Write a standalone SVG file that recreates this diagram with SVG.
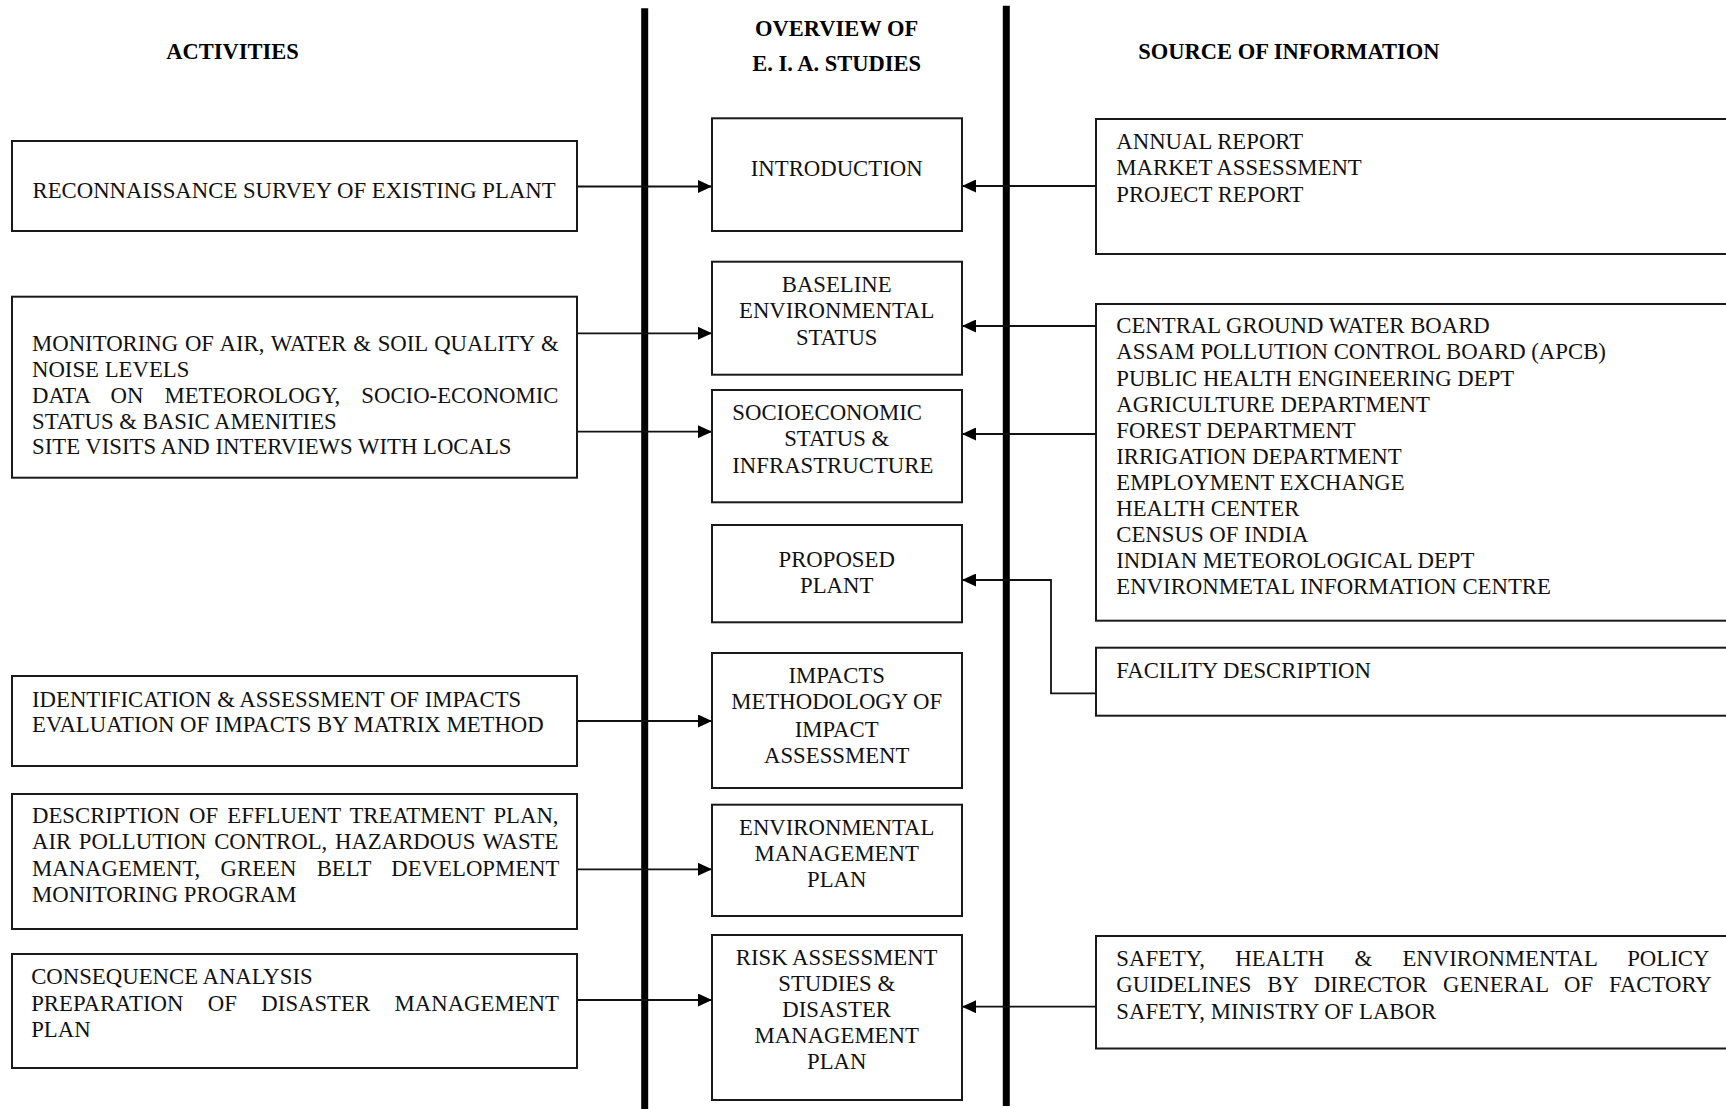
<svg xmlns="http://www.w3.org/2000/svg" width="1726" height="1109" viewBox="0 0 1726 1109">
<style>
.box{fill:#fff;stroke:#1a1a1a;stroke-width:2}
.t{font-family:"Liberation Serif","Times New Roman",serif;font-size:22.75px;fill:#111}
.h{font-family:"Liberation Serif","Times New Roman",serif;font-size:22.5px;font-weight:bold;fill:#000}
.c{text-anchor:middle}
.con{fill:none;stroke:#111;stroke-width:1.8}
.bar{stroke:#000;stroke-width:7}
</style>
<defs>
<marker id="arr" markerWidth="14" markerHeight="13" refX="14" refY="6.5" orient="auto" markerUnits="userSpaceOnUse">
<path d="M0,0 L14,6.5 L0,13 z" fill="#000"/>
</marker>
</defs>
<rect width="1726" height="1109" fill="#fff"/>

<g id="headers">
<text class="h c" x="232.5" y="59.3">ACTIVITIES</text>
<text class="h c" x="836.7" y="35.7">OVERVIEW OF</text>
<text class="h c" x="836.7" y="70.7">E. I. A. STUDIES</text>
<text class="h c" x="1289" y="59.3">SOURCE OF INFORMATION</text>
</g>

<g id="dividers">
<line class="bar" x1="644.7" y1="8.3" x2="644.7" y2="1109"/>
<line class="bar" x1="1006.3" y1="5.7" x2="1006.3" y2="1106"/>
</g>

<g id="connectors">
<line class="con" x1="577" y1="186.5" x2="712" y2="186.5" marker-end="url(#arr)"/>
<line class="con" x1="1096" y1="186" x2="962" y2="186" marker-end="url(#arr)"/>
<line class="con" x1="577" y1="333.3" x2="712" y2="333.3" marker-end="url(#arr)"/>
<line class="con" x1="577" y1="431.7" x2="712" y2="431.7" marker-end="url(#arr)"/>
<line class="con" x1="1096" y1="326" x2="962" y2="326" marker-end="url(#arr)"/>
<line class="con" x1="1096" y1="434" x2="962" y2="434" marker-end="url(#arr)"/>
<polyline class="con" points="1096,693.3 1051,693.3 1051,580 962,580" marker-end="url(#arr)"/>
<line class="con" x1="577" y1="721" x2="712" y2="721" marker-end="url(#arr)"/>
<line class="con" x1="577" y1="869.3" x2="712" y2="869.3" marker-end="url(#arr)"/>
<line class="con" x1="577" y1="1000" x2="712" y2="1000" marker-end="url(#arr)"/>
<line class="con" x1="1096" y1="1006.7" x2="962" y2="1006.7" marker-end="url(#arr)"/>
</g>

<g id="act-reconnaissance">
<rect class="box" x="12" y="141" width="565" height="90"/>
<text class="t" x="32.5" y="198.3">RECONNAISSANCE SURVEY OF EXISTING PLANT</text>
</g>
<g id="act-monitoring">
<rect class="box" x="12" y="296.7" width="565" height="181"/>
<text class="t" x="32" y="350.7" word-spacing="1.05">MONITORING OF AIR, WATER &amp; SOIL QUALITY &amp;</text>
<text class="t" x="32" y="376.7">NOISE LEVELS</text>
<text class="t" x="32" y="402.7" word-spacing="15.3">DATA ON METEOROLOGY, SOCIO-ECONOMIC</text>
<text class="t" x="32" y="428.7">STATUS &amp; BASIC AMENITIES</text>
<text class="t" x="32" y="454">SITE VISITS AND INTERVIEWS WITH LOCALS</text>
</g>
<g id="act-impacts">
<rect class="box" x="12" y="676" width="565" height="90"/>
<text class="t" x="32" y="706.7">IDENTIFICATION &amp; ASSESSMENT OF IMPACTS</text>
<text class="t" x="32" y="732.3">EVALUATION OF IMPACTS BY MATRIX METHOD</text>
</g>
<g id="act-description">
<rect class="box" x="12" y="794" width="565" height="135"/>
<text class="t" x="32" y="823.3" word-spacing="3.5">DESCRIPTION OF EFFLUENT TREATMENT PLAN,</text>
<text class="t" x="32" y="849.3" word-spacing="2">AIR POLLUTION CONTROL, HAZARDOUS WASTE</text>
<text class="t" x="32" y="876" word-spacing="14.6">MANAGEMENT, GREEN BELT DEVELOPMENT</text>
<text class="t" x="32" y="902.3">MONITORING PROGRAM</text>
</g>
<g id="act-consequence">
<rect class="box" x="12" y="954" width="565" height="114"/>
<text class="t" x="31.2" y="984.3">CONSEQUENCE ANALYSIS</text>
<text class="t" x="31.2" y="1011" word-spacing="18.8">PREPARATION OF DISASTER MANAGEMENT</text>
<text class="t" x="31.2" y="1036.7">PLAN</text>
</g>

<g id="eia-introduction">
<rect class="box" x="712" y="118.3" width="250" height="112.7"/>
<text class="t c" x="836.7" y="176">INTRODUCTION</text>
</g>
<g id="eia-baseline">
<rect class="box" x="712" y="261.7" width="250" height="113"/>
<text class="t c" x="836.7" y="292.3">BASELINE</text>
<text class="t c" x="836.7" y="318.3">ENVIRONMENTAL</text>
<text class="t c" x="836.7" y="345">STATUS</text>
</g>
<g id="eia-socioeconomic">
<rect class="box" x="712" y="390" width="250" height="112.3"/>
<text class="t" x="732.3" y="420">SOCIOECONOMIC</text>
<text class="t c" x="836.7" y="446">STATUS &amp;</text>
<text class="t" x="732.3" y="472.7">INFRASTRUCTURE</text>
</g>
<g id="eia-proposed">
<rect class="box" x="712" y="525" width="250" height="97.3"/>
<text class="t c" x="836.7" y="566.7">PROPOSED</text>
<text class="t c" x="836.7" y="593.3">PLANT</text>
</g>
<g id="eia-impacts">
<rect class="box" x="712" y="653" width="250" height="135"/>
<text class="t c" x="836.7" y="683.3">IMPACTS</text>
<text class="t c" x="836.7" y="709.3">METHODOLOGY OF</text>
<text class="t c" x="836.7" y="736.7">IMPACT</text>
<text class="t c" x="836.7" y="763.3">ASSESSMENT</text>
</g>
<g id="eia-emp">
<rect class="box" x="712" y="804.7" width="250" height="111.3"/>
<text class="t c" x="836.7" y="835">ENVIRONMENTAL</text>
<text class="t c" x="836.7" y="861">MANAGEMENT</text>
<text class="t c" x="836.7" y="887.3">PLAN</text>
</g>
<g id="eia-risk">
<rect class="box" x="712" y="935" width="250" height="165"/>
<text class="t c" x="836.7" y="965">RISK ASSESSMENT</text>
<text class="t c" x="836.7" y="990.7">STUDIES &amp;</text>
<text class="t c" x="836.7" y="1016.7">DISASTER</text>
<text class="t c" x="836.7" y="1043.3">MANAGEMENT</text>
<text class="t c" x="836.7" y="1069.3">PLAN</text>
</g>

<g id="src-reports">
<rect class="box" x="1096" y="119" width="650" height="135"/>
<text class="t" x="1116.3" y="149.3">ANNUAL REPORT</text>
<text class="t" x="1116.3" y="175.3">MARKET ASSESSMENT</text>
<text class="t" x="1116.3" y="201.7">PROJECT REPORT</text>
</g>
<g id="src-agencies">
<rect class="box" x="1096" y="304" width="650" height="316.7"/>
<text class="t" x="1116.3" y="333.3">CENTRAL GROUND WATER BOARD</text>
<text class="t" x="1116.3" y="359.4">ASSAM POLLUTION CONTROL BOARD (APCB)</text>
<text class="t" x="1116.3" y="385.5">PUBLIC HEALTH ENGINEERING DEPT</text>
<text class="t" x="1116.3" y="411.6">AGRICULTURE DEPARTMENT</text>
<text class="t" x="1116.3" y="437.7">FOREST DEPARTMENT</text>
<text class="t" x="1116.3" y="463.8">IRRIGATION DEPARTMENT</text>
<text class="t" x="1116.3" y="489.9">EMPLOYMENT EXCHANGE</text>
<text class="t" x="1116.3" y="516">HEALTH CENTER</text>
<text class="t" x="1116.3" y="542.1">CENSUS OF INDIA</text>
<text class="t" x="1116.3" y="568.2">INDIAN METEOROLOGICAL DEPT</text>
<text class="t" x="1116.3" y="594.3">ENVIRONMETAL INFORMATION CENTRE</text>
</g>
<g id="src-facility">
<rect class="box" x="1096" y="647.7" width="650" height="68"/>
<text class="t" x="1116.3" y="678.3">FACILITY DESCRIPTION</text>
</g>
<g id="src-safety">
<rect class="box" x="1096" y="936" width="650" height="112.5"/>
<text class="t" x="1116.3" y="965.7" word-spacing="24.6">SAFETY, HEALTH &amp; ENVIRONMENTAL POLICY</text>
<text class="t" x="1116.3" y="992.3" word-spacing="10.1">GUIDELINES BY DIRECTOR GENERAL OF FACTORY</text>
<text class="t" x="1116.3" y="1019">SAFETY, MINISTRY OF LABOR</text>
</g>
</svg>
